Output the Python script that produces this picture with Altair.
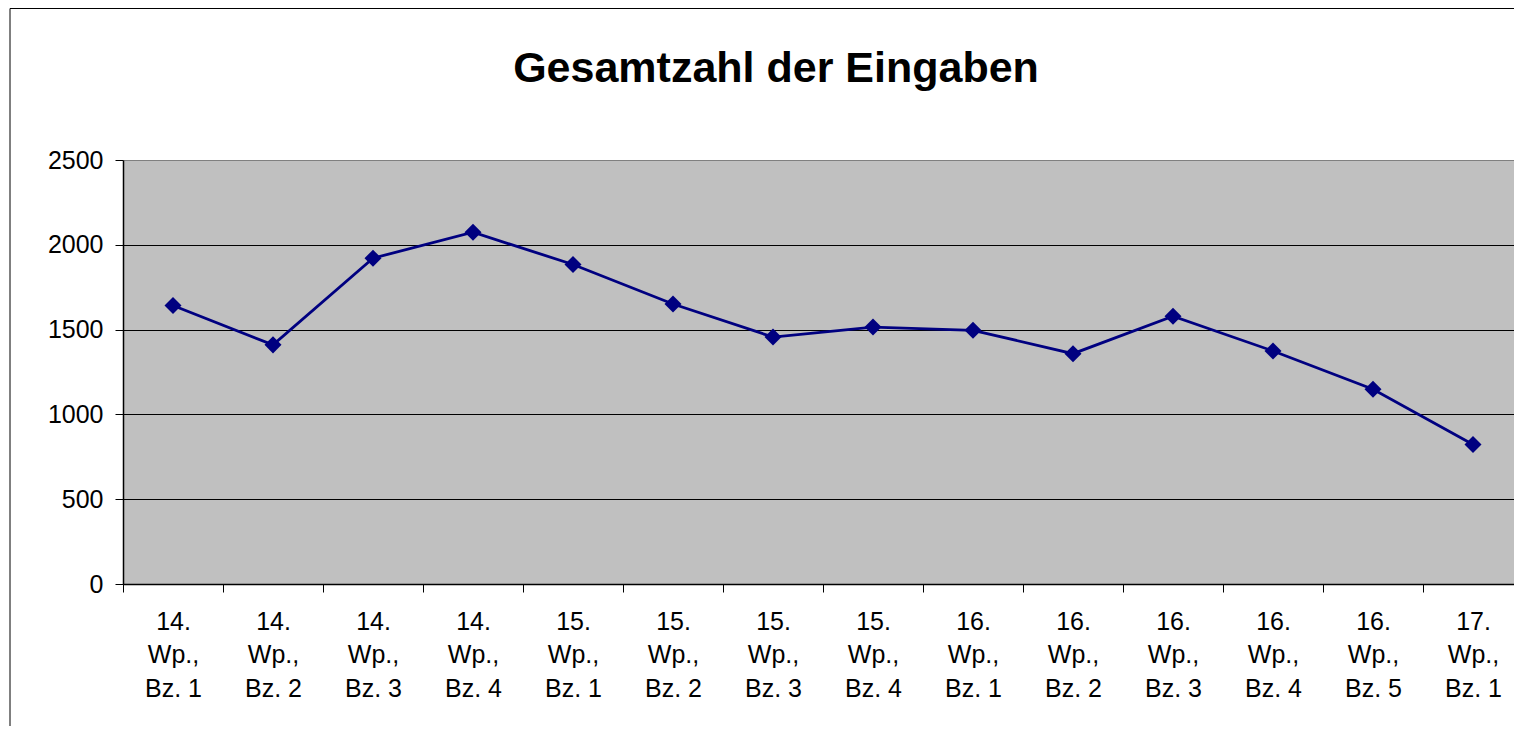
import altair as alt
import pandas as pd

TITLE = "Gesamtzahl der Eingaben"
categories = [
    "14. Wp., Bz. 1", "14. Wp., Bz. 2", "14. Wp., Bz. 3", "14. Wp., Bz. 4",
    "15. Wp., Bz. 1", "15. Wp., Bz. 2", "15. Wp., Bz. 3", "15. Wp., Bz. 4",
    "16. Wp., Bz. 1", "16. Wp., Bz. 2", "16. Wp., Bz. 3", "16. Wp., Bz. 4",
    "16. Wp., Bz. 5", "17. Wp., Bz. 1",
]
values = [1642, 1410, 1921, 2074, 1884, 1651, 1456, 1515, 1496, 1358, 1579, 1374, 1148, 823]
y_ticks = [0, 500, 1000, 1500, 2000, 2500]

df = pd.DataFrame({"cat": categories, "val": values})
FONT = "Liberation Sans"

x_enc = alt.X(
    "cat:N", sort=categories, title=None,
    scale=alt.Scale(paddingInner=0, paddingOuter=0, range=[0, 1400]),
    axis=alt.Axis(
        labelAngle=0, tickBand="extent", tickSize=8, tickColor="black",
        domainColor="black", domainWidth=1.5, labelFontSize=25, labelFont=FONT,
        labelColor="black", labelPadding=17, labelLineHeight=33.5,
        labelBaseline="top", labelAlign="center",
        labelExpr="length(datum.label) > 3 ? [split(datum.label,' ')[0], split(datum.label,' ')[1], split(datum.label,' ')[2] + ' ' + split(datum.label,' ')[3]] : ''",
        grid=False,
    ),
)
y_enc = alt.Y(
    "val:Q", title=None,
    scale=alt.Scale(domain=[0, 2500], nice=False),
    axis=alt.Axis(
        values=y_ticks, format="d", tickSize=8, tickColor="black",
        domainColor="black", domainWidth=1.5, labelFontSize=25, labelFont=FONT,
        labelColor="black", labelPadding=12, grid=True,
        gridColor={"condition": {"test": "datum.value === 2500", "value": "#808080"}, "value": "black"},
        gridWidth=1,
    ),
)

line = alt.Chart(df).mark_line(color="#000080", strokeWidth=2.8).encode(x=x_enc, y=y_enc)
pts = alt.Chart(df).mark_point(
    shape="diamond", filled=True, color="#000080", size=290, opacity=1
).encode(x=alt.X("cat:N", sort=categories), y="val:Q")

title = alt.Chart(pd.DataFrame({"t": [TITLE]})).mark_text(
    fontSize=43, fontWeight="bold", font=FONT, color="black",
    align="center", baseline="alphabetic"
).encode(text="t:N", x=alt.value(653), y=alt.value(-78))

border = alt.Chart(pd.DataFrame({"a": [0]})).mark_rect(
    fillOpacity=0, stroke="black", strokeWidth=1
).encode(x=alt.value(-113), x2=alt.value(1600), y=alt.value(-151.5), y2=alt.value(800))

chart = alt.layer(line, pts, title, border).properties(
    width=1391, height=424,
    background="white",
    autosize=alt.AutoSizeParams(type="none"),
    padding={"left": 115, "top": 152, "right": 0, "bottom": 142},
).configure_view(
    fill="#C0C0C0", strokeOpacity=0
)

chart.save("out.html", embed_options={"renderer": "svg", "actions": False})
